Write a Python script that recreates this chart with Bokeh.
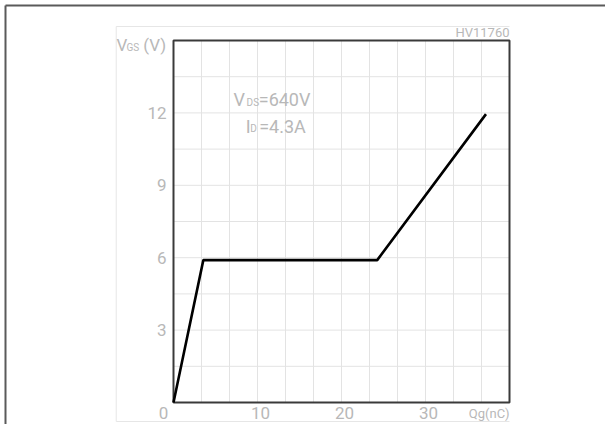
from bokeh.plotting import figure
from bokeh.core.properties import value
from bokeh.embed import file_html
from bokeh.resources import INLINE

# data
qg = [0, 3.55, 24.25, 37.2]
vgs = [0, 5.9, 5.9, 11.95]
x_ticks = [10, 20, 30]
x_tick_labels = ["10", "20", "30"]
y_ticks = [3, 6, 9, 12]
y_tick_labels = ["3", "6", "9", "12"]
x_grid = [10 / 3 * i for i in range(1, 12)]
y_grid = [1.5 * i for i in range(1, 10)]
X_MAX, Y_MAX = 40, 15

TXT = "#b8b8b8"
FONT = value("Roboto")

# the whole canvas is the data frame; axis box drawn explicitly
W, H = 605, 424
PX_X, PX_Y = 8.4, 362 / 15.0          # pixels per unit
X0, Y0 = 173, 402                       # pixel position of (0, 0)
p = figure(width=W, height=H,
           x_range=(-X0 / PX_X, (W - X0) / PX_X),
           y_range=(-(H - Y0) / PX_Y, Y0 / PX_Y),
           x_axis_type=None, y_axis_type=None,
           min_border=0, output_backend="svg", toolbar_location=None)
p.outline_line_color = None
p.background_fill_color = "white"
p.border_fill_color = "white"

# grid lines
p.segment(x0=x_grid, y0=[0] * len(x_grid), x1=x_grid, y1=[Y_MAX] * len(x_grid),
          line_color="#e3e3e3", line_width=1)
p.segment(x0=[0] * len(y_grid), y0=y_grid, x1=[X_MAX] * len(y_grid), y1=y_grid,
          line_color="#e3e3e3", line_width=1)

# light outer guide lines (left, top, bottom)
gl, gt, gb = -6.82, 15.58, -0.787
p.segment(x0=[gl, gl, gl], y0=[gb, gt, gb], x1=[gl, X_MAX, X_MAX], y1=[gt, gt, gb],
          line_color="#e6e6e6", line_width=1)

# dark page border (left, top)
bl, bt = -20.0, 16.45
p.segment(x0=[bl, bl], y0=[-1.0, bt], x1=[bl, 60], y1=[bt, bt],
          line_color="#5a5a5a", line_width=2)

# axis frame
p.quad(left=[0], right=[X_MAX], bottom=[0], top=[Y_MAX], fill_color=None,
       line_color="#3a3a3a", line_width=2)

# curve
p.line(qg, vgs, line_color="black", line_width=2.6)

# tick labels
p.text(x=[-0.83] * len(y_ticks), y=y_ticks, text=y_tick_labels, text_font=FONT,
       text_font_size="17px", text_color=TXT, text_align="right",
       text_baseline="middle")
p.text(x=x_ticks, y=[-0.42] * len(x_ticks), text=x_tick_labels, text_font=FONT,
       text_font_size="17px", text_color=TXT, text_align="center",
       text_baseline="middle", x_offset=3)

def lab(x, y, text, size, align="left"):
    p.text(x=[x], y=[y], text=[text], text_font=FONT, text_font_size=size,
           text_color=TXT, text_align=align, text_baseline="middle")

# y axis title V_GS (V)
lab(-6.8, 14.83, "V", "17px")
lab(-5.6, 14.71, "GS", "10px")
lab(-3.6, 14.83, "(V)", "17px")
# x axis title and corner zero
lab(X_MAX, -0.45, "Qg(nC)", "13px", align="right")
lab(-1.19, -0.45, "0", "17px", align="center")
# ID tag
lab(X_MAX, 15.33, "HV11760", "13px", align="right")
# conditions
lab(7.14, 12.535, "V", "18px")
lab(8.7, 12.43, "DS", "10px")
lab(10.15, 12.535, "=640V", "18px")
lab(8.6, 11.416, "I", "18px")
lab(9.15, 11.35, "D", "10px")
lab(10.2, 11.416, "=4.3A", "18px")

open("out.html", "w").write(file_html(p, INLINE))
